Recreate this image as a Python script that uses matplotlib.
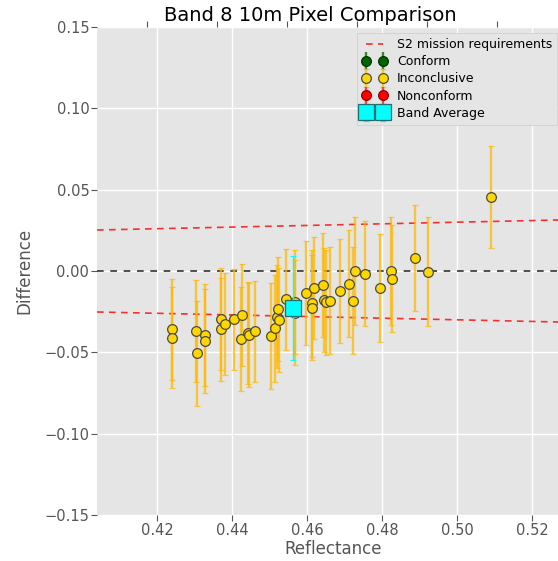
import numpy as np
import matplotlib
matplotlib.use("Agg")
import matplotlib.pyplot as plt
from matplotlib.container import ErrorbarContainer
from matplotlib.legend_handler import HandlerErrorbar

plt.style.use("ggplot")

# Per-pixel comparison points (reflectance, difference, uncertainty)
refl = [0.4239, 0.4241, 0.4304, 0.4306, 0.4327, 0.4327, 0.4371, 0.4371,
        0.4380, 0.4405, 0.4427, 0.4423, 0.4442, 0.4445, 0.4462, 0.4503,
        0.4515, 0.4519, 0.4524, 0.4523, 0.4545, 0.4569, 0.4569, 0.4596,
        0.4618, 0.4613, 0.4613, 0.4642, 0.4645, 0.4651, 0.4662, 0.4689,
        0.4713, 0.4722, 0.4727, 0.4754, 0.4794, 0.4823, 0.4826, 0.4887,
        0.4922, 0.5090]
diff = [-0.0359, -0.0410, -0.0369, -0.0506, -0.0394, -0.0432, -0.0297, -0.0359,
        -0.0326, -0.0297, -0.0272, -0.0420, -0.0381, -0.0395, -0.0371, -0.0400,
        -0.0352, -0.0281, -0.0301, -0.0236, -0.0174, -0.0256, -0.0191, -0.0135,
        -0.0106, -0.0199, -0.0226, -0.0088, -0.0178, -0.0192, -0.0183, -0.0125,
        -0.0078, -0.0183, 0.0000, -0.0018, -0.0106, 0.0000, -0.0047, 0.0080,
        -0.0004, 0.0453]
unc = [0.0311, 0.0310, 0.0312, 0.0324, 0.0314, 0.0320, 0.0314, 0.0316,
       0.0316, 0.0311, 0.0314, 0.0320, 0.0316, 0.0320, 0.0311, 0.0324,
       0.0328, 0.0316, 0.0320, 0.0320, 0.0311, 0.0324, 0.0320, 0.0322,
       0.0314, 0.0328, 0.0324, 0.0320, 0.0318, 0.0322, 0.0328, 0.0320,
       0.0330, 0.0330, 0.0330, 0.0323, 0.0332, 0.0335, 0.0330, 0.0326,
       0.0335, 0.0314]

# Band average
avg_refl = [0.4563]
avg_diff = [-0.0229]
avg_unc = [0.0320]

# Mission requirement: |difference| <= offset + slope * reflectance
req_offset = 0.005
req_slope = 0.05

x_limits = (0.404, 0.530)
y_limits = (-0.15, 0.15)
x_ticks = [0.42, 0.44, 0.46, 0.48, 0.50, 0.52]
y_ticks = [-0.15, -0.10, -0.05, 0.00, 0.05, 0.10, 0.15]

W, H = 558, 561
AX_W = 472.5
fig = plt.figure(figsize=(W / 100, H / 100), dpi=100)
ax = fig.add_axes([97 / W, 46 / H, AX_W / W, 488 / H])

ax.set_xlim(*x_limits)
ax.set_ylim(*y_limits)

xs = np.array(x_limits)
req = req_offset + req_slope * xs
dash = (0, (4, 3.2))
req_line, = ax.plot(xs, req, color="red", lw=1.2, ls=dash, alpha=0.8,
                    label="S2 mission requirements")
ax.plot(xs, -req, color="red", lw=1.2, ls=dash, alpha=0.8)
ax.axhline(0, color="#333333", lw=1.2, ls=(0, (4, 4)), zorder=1.5)

ekw = dict(fmt="o", markersize=7, markeredgewidth=0.9, capsize=2.5,
           elinewidth=1.7, capthick=1.2)

conform = ax.errorbar([], [], yerr=[], color="#006400", ecolor="#2e8b2e",
                      markerfacecolor="#006400", markeredgecolor="#003000",
                      label="Conform", **ekw)
inconcl = ax.errorbar(refl, diff, yerr=unc, color="#FFD700",
                      ecolor=(1.0, 0.72, 0.0, 0.72),
                      markerfacecolor="#FFD700", markeredgecolor="#4d4a3a",
                      label="Inconclusive", zorder=3, **ekw)
nonconf = ax.errorbar([], [], yerr=[], color="red", ecolor="#ff4040",
                      markerfacecolor="red", markeredgecolor="#8b0000",
                      label="Nonconform", **ekw)
band = ax.errorbar(avg_refl, avg_diff, yerr=avg_unc, fmt="s", color="cyan",
                   markersize=11, markerfacecolor="cyan",
                   markeredgecolor="#1f6f70", markeredgewidth=0.9,
                   ecolor="cyan", elinewidth=1.0, capsize=2.5, zorder=4,
                   label="Band Average")

ax.set_xticks(x_ticks)
ax.set_yticks(y_ticks)
ax.set_xticklabels([f"{v:.2f}" for v in x_ticks])
ax.set_yticklabels([f"{v:.2f}".replace("-", "\u2212") for v in y_ticks])
ax.tick_params(labelsize=10.5, colors="#555555", direction="out", length=4,
               pad=1.5)
ax.set_xlabel("Reflectance", fontsize=12, color="#555555", labelpad=2)
ax.set_ylabel("Difference", fontsize=12, color="#555555", labelpad=8)
ax.grid(True, color="white", lw=1.0)
for s in ax.spines.values():
    s.set_visible(False)

leg = ax.legend(handles=[req_line, conform, inconcl, nonconf, band],
                loc="upper right", bbox_to_anchor=(1 - 6 / AX_W, 1.0),
                numpoints=2, fontsize=9, fancybox=False, labelspacing=0.33,
                framealpha=1.0, facecolor="#E5E5E5", edgecolor="#cccccc",
                handler_map={ErrorbarContainer: HandlerErrorbar(xerr_size=0.5,
                                                                yerr_size=0.7)})

# Header frame carrying the title and the top tick marks
hdr = fig.add_axes([97 / W, 46 / H, 426 / W, 488 / H], frameon=False)
hdr.patch.set_visible(False)
hdr.grid(False)
hdr.set_xlim(0, 426)
hdr.set_xticks([50, 120, 190, 260, 330, 400])
hdr.set_yticks([])
hdr.tick_params(top=True, bottom=False, left=False, labeltop=False,
                labelbottom=False, colors="#555555", direction="out", length=4)
hdr.set_title("Band 8 10m Pixel Comparison", fontsize=14, color="black", pad=4)

fig.savefig("out.png", dpi=100)
